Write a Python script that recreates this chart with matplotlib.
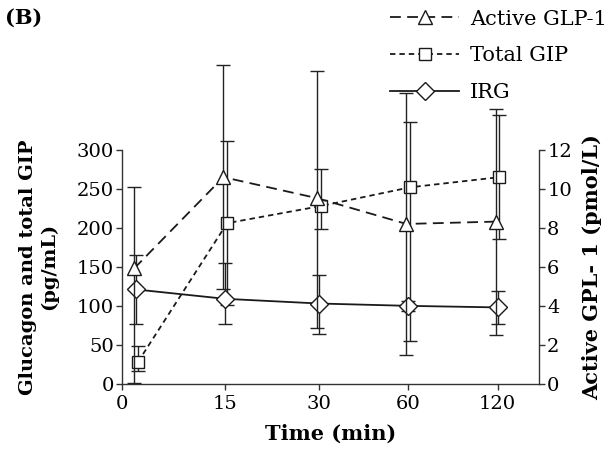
import numpy as np
import matplotlib
matplotlib.use("Agg")
import matplotlib.pyplot as plt
from matplotlib.lines import Line2D

plt.rcParams['font.family'] = ['DejaVu Serif']

# x categories (min) and where they sit on the axis
time_labels = ['0', '15', '30', '60', '120']
tick_pos = [0, 1.1, 2.1, 3.05, 4.0]
pt_pos = [0.15, 1.1, 2.1, 3.05, 4.0]

# Active GLP-1 (pmol/L), right axis
glp1 = [5.92, 10.6, 9.52, 8.2, 8.32]
glp1_lo = [5.88, 5.76, 6.64, 6.72, 5.8]
glp1_hi = [4.16, 5.76, 6.52, 6.72, 5.76]

# Total GIP (pg/mL), left axis
gip = [28, 206, 228, 252, 265]
gip_lo = [12, 105, 29, 197, 79]
gip_hi = [20, 105, 48, 84, 80]

# IRG / glucagon (pg/mL), left axis
irg = [121, 109, 103, 100, 98]
irg_lo = [44, 32, 39, 6, 21]
irg_hi = [44, 46, 37, 6, 21]

fig = plt.figure(figsize=(6.13, 4.5), dpi=100)
ax = fig.add_axes([0.199, 0.147, 0.68, 0.52])
ax2 = ax.twinx()

lw = 1.3
eb = dict(ecolor='#222222', elinewidth=1.0, capsize=5, capthick=2.2)
x = np.array(pt_pos)

c1 = ax.errorbar(x + 0.02, gip, yerr=[gip_lo, gip_hi], color='#1a1a1a', lw=lw,
                 ls=(0, (3, 2.2)), marker='s', ms=9, mfc='white', mec='#1a1a1a',
                 mew=1.0, **eb)
c2 = ax.errorbar(x, irg, yerr=[irg_lo, irg_hi], color='#1a1a1a', lw=lw,
                 ls='-', marker='D', ms=9, mfc='white', mec='#1a1a1a',
                 mew=1.0, **eb)
c3 = ax2.errorbar(x - 0.02, glp1, yerr=[glp1_lo, glp1_hi], color='#1a1a1a', lw=lw,
                  ls=(0, (6, 3.5)), marker='^', ms=10, mfc='white', mec='#1a1a1a',
                  mew=1.0, **eb)
for c in (c1, c2, c3):
    for art in c.get_children():
        art.set_clip_on(False)

ax.set_xlim(0, 4.44)
ax.set_ylim(0, 300)
ax2.set_ylim(0, 12)
ax.set_yticks(range(0, 301, 50))
ax2.set_yticks(range(0, 13, 2))
ax.set_xticks(tick_pos)
ax.set_xticklabels(time_labels)

for a in (ax, ax2):
    a.spines['top'].set_visible(False)
    for s in a.spines.values():
        s.set_color('#333333')
        s.set_linewidth(1.0)
    a.tick_params(direction='out', length=4, width=1.0, color='#333333',
                  labelsize=14, pad=2)
ax.tick_params(axis='x', pad=4)
ax2.spines['left'].set_visible(False)
ax2.spines['bottom'].set_visible(False)
ax.spines['right'].set_visible(False)

ax.set_xlabel('Time (min)', fontsize=15, fontweight='bold', labelpad=8)
ax.set_ylabel('Glucagon and total GIP\n(pg/mL)', fontsize=14,
              fontweight='bold', labelpad=13, linespacing=1.25)
ax2.set_ylabel('Active GPL- 1 (pmol/L)', fontsize=15, fontweight='bold',
               labelpad=7)

fig.text(0.008, 0.96, '(B)', fontsize=15, fontweight='bold', va='center')

handles = [
    Line2D([], [], color='#1a1a1a', lw=lw, ls=(0, (6, 3.5)), marker='^',
           ms=10, mfc='white', mec='#1a1a1a'),
    Line2D([], [], color='#1a1a1a', lw=lw, ls=(0, (3, 2.2)), marker='s',
           ms=9, mfc='white', mec='#1a1a1a'),
    Line2D([], [], color='#1a1a1a', lw=lw, ls='-', marker='D',
           ms=9, mfc='white', mec='#1a1a1a'),
]
fig.legend(handles, ['Active GLP-1', 'Total GIP', 'IRG'], loc='upper right',
           bbox_to_anchor=(1.02, 1.02), frameon=False, fontsize=15,
           handlelength=3.3, numpoints=1, labelspacing=0.85, handletextpad=0.5)

fig.savefig('out.png', dpi=100)
